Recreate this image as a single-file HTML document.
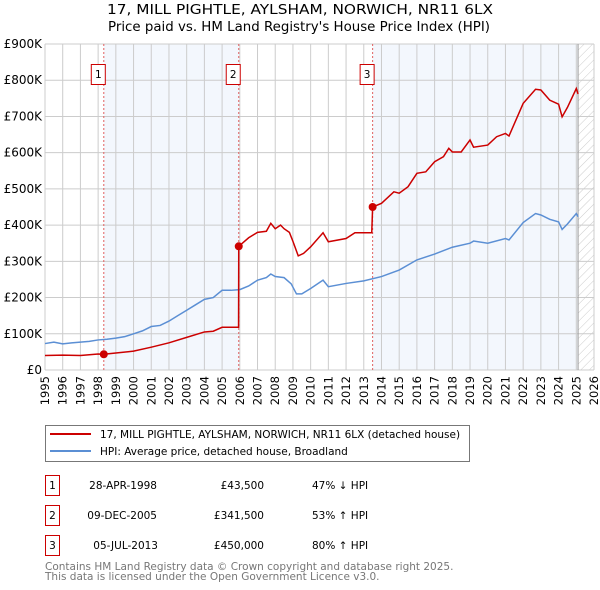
<!DOCTYPE html>
<html><head><meta charset="utf-8"><style>
body{margin:0;background:#fff;font-family:"DejaVu Sans","Liberation Sans",sans-serif;}
svg{display:block}
</style></head><body>
<svg id="chart" width="600" height="590" xmlns="http://www.w3.org/2000/svg" font-family="DejaVu Sans, Liberation Sans, sans-serif">
<defs><pattern id="hatch" width="6" height="6" patternUnits="userSpaceOnUse" patternTransform="rotate(45)"><line x1="0" y1="0" x2="0" y2="6" stroke="#ccc" stroke-width="1"/></pattern></defs>
<text x="107" y="14" font-size="13" textLength="386" lengthAdjust="spacingAndGlyphs">17, MILL PIGHTLE, AYLSHAM, NORWICH, NR11 6LX</text>
<text x="108" y="31" font-size="13" textLength="382" lengthAdjust="spacingAndGlyphs">Price paid vs. HM Land Registry's House Price Index (HPI)</text>
<g id="plot"></g>
<g>
<rect x="45.5" y="425.5" width="424" height="36" fill="#fff" stroke="#777"/>
<line x1="50" y1="434" x2="91" y2="434" stroke="#cc0000" stroke-width="2"/>
<text x="100" y="438" font-size="10.5">17, MILL PIGHTLE, AYLSHAM, NORWICH, NR11 6LX (detached house)</text>
<line x1="50" y1="451" x2="91" y2="451" stroke="#5b8fd4" stroke-width="2"/>
<text x="100" y="455" font-size="10.5">HPI: Average price, detached house, Broadland</text>
</g>
<g font-size="10.5">
<rect x="45.5" y="475.5" width="14" height="20" fill="#fff" stroke="#cc0000"/><text x="52.5" y="489" text-anchor="middle">1</text>
<text x="157" y="489" text-anchor="end">28-APR-1998</text><text x="264" y="489" text-anchor="end">£43,500</text><text x="312" y="489">47% ↓ HPI</text>
<rect x="45.5" y="505.5" width="14" height="20" fill="#fff" stroke="#cc0000"/><text x="52.5" y="519" text-anchor="middle">2</text>
<text x="157" y="519" text-anchor="end">09-DEC-2005</text><text x="264" y="519" text-anchor="end">£341,500</text><text x="312" y="519">53% ↑ HPI</text>
<rect x="45.5" y="535.5" width="14" height="20" fill="#fff" stroke="#cc0000"/><text x="52.5" y="549" text-anchor="middle">3</text>
<text x="158" y="549" text-anchor="end">05-JUL-2013</text><text x="264" y="549" text-anchor="end">£450,000</text><text x="312" y="549">80% ↑ HPI</text>
</g>
<text x="45" y="570" font-size="10.5" fill="#777">Contains HM Land Registry data © Crown copyright and database right 2025.</text>
<text x="45" y="580" font-size="10.5" fill="#777">This data is licensed under the Open Government Licence v3.0.</text>
</svg>
<script>
const hpiYears=[1995,1995.5,1996,1996.5,1997,1997.5,1998,1998.5,1999,1999.5,2000,2000.5,2001,2001.5,2002,2002.5,2003,2003.5,2004,2004.5,2005,2005.5,2006,2006.5,2007,2007.5,2007.75,2008,2008.5,2008.9,2009.2,2009.5,2010,2010.7,2011,2012,2013,2014,2015,2016,2017,2018,2019,2019.2,2020,2021,2021.2,2022,2022.7,2023,2023.5,2024,2024.2,2024.5,2025,2025.1];
const hpiValues=[73,77,72,75,77,79,83,85,88,92,100,108,120,123,135,150,165,180,195,200,220,220,222,232,248,255,265,258,255,238,210,210,225,248,230,239,246,258,276,304,320,339,350,356,350,363,359,407,432,428,416,409,388,403,432,423];
const priceYears=[1995,1996,1997,1998,1998.32,1999,2000,2001,2002,2003,2004,2004.5,2005,2005.93,2005.94,2006.5,2007,2007.5,2007.75,2008,2008.3,2008.5,2008.8,2009,2009.3,2009.6,2010,2010.7,2011,2012,2012.5,2013.45,2013.5,2014,2014.7,2015,2015.5,2016,2016.5,2017,2017.5,2017.8,2018,2018.5,2019,2019.2,2020,2020.5,2021,2021.2,2022,2022.7,2023,2023.5,2024,2024.2,2024.5,2025,2025.1];
const priceValues=[40,41,40,44,43.5,47,52,63,75,90,105,107,118,118,341.5,365,380,383,405,390,400,390,380,355,315,322,340,379,354,363,379,379,450,460,492,488,506,543,547,575,589,612,602,602,635,615,621,644,653,646,736,775,773,745,734,699,725,777,762];
const saleYears=[1998.32,2005.94,2013.5];
const saleValues=[43.5,341.5,450];
const saleLabels=["1","2","3"];
const yTicks=[0,100,200,300,400,500,600,700,800,900];
const yTickLabels=["£0","£100K","£200K","£300K","£400K","£500K","£600K","£700K","£800K","£900K"];
const xTicks=[1995,1996,1997,1998,1999,2000,2001,2002,2003,2004,2005,2006,2007,2008,2009,2010,2011,2012,2013,2014,2015,2016,2017,2018,2019,2020,2021,2022,2023,2024,2025,2026];
const dataEnd=2025.1;
const L=45,R=594,T=44,B=370;
const X=y=>L+(y-1995)/(2026-1995)*(R-L);
const Y=v=>B-v/900*(B-T);
const NS="http://www.w3.org/2000/svg";
const g=document.getElementById('plot');
function mk(tag,attrs,parent){const e=document.createElementNS(NS,tag);for(const k in attrs)e.setAttribute(k,attrs[k]);(parent||g).appendChild(e);return e;}
let e;
e=mk('rect',{x:X(saleYears[0]),y:T,width:X(saleYears[1])-X(saleYears[0]),height:B-T,fill:'#eef3fc',opacity:0.7});


e=mk('rect',{x:X(saleYears[2]),y:T,width:X(dataEnd)-X(saleYears[2]),height:B-T,fill:'#eef3fc',opacity:0.7});


e=mk('rect',{x:X(dataEnd),y:T,width:R-X(dataEnd),height:B-T,fill:'url(#hatch)'});


xTicks.forEach(t=>{const l=mk('line',{x1:X(t),x2:X(t),y1:T,y2:B,stroke:'#ccc'});


const tx=mk('text',{x:0,y:0,'font-size':11.5,'text-anchor':'end',transform:`translate(${X(t)+4},${B+6}) rotate(-90)`});tx.textContent=t;

});
yTicks.forEach((t,i)=>{const l=mk('line',{x1:L,x2:R,y1:Y(t),y2:Y(t),stroke:'#ccc'});


const tx=mk('text',{x:L-3,y:Y(t)+4,'font-size':12,'text-anchor':'end'});tx.textContent=yTickLabels[i];

});
e=mk('line',{x1:X(dataEnd),x2:X(dataEnd),y1:T,y2:B,stroke:'#999','stroke-width':1});


saleYears.forEach((s,i)=>{const l=mk('line',{x1:X(s),x2:X(s),y1:T,y2:B,stroke:'#e06060','stroke-dasharray':'2,2'});


const r=mk('rect',{x:X(s)-12.5,y:64.5,width:14,height:20,fill:'#fff',stroke:'#cc0000'});


const tx=mk('text',{x:X(s)-5.5,y:78,'font-size':10.5,'text-anchor':'middle'});tx.textContent=saleLabels[i];

});
e=mk('polyline',{points:hpiYears.map((y,i)=>X(y)+','+Y(hpiValues[i])).join(' '),fill:'none',stroke:'#5b8fd4','stroke-width':1.5});


e=mk('polyline',{points:priceYears.map((y,i)=>X(y)+','+Y(priceValues[i])).join(' '),fill:'none',stroke:'#cc0000','stroke-width':1.5});


saleYears.forEach((s,i)=>{const d=mk('circle',{cx:X(s),cy:Y(saleValues[i]),r:4,fill:'#cc0000'});

});
</script>
</body></html>
